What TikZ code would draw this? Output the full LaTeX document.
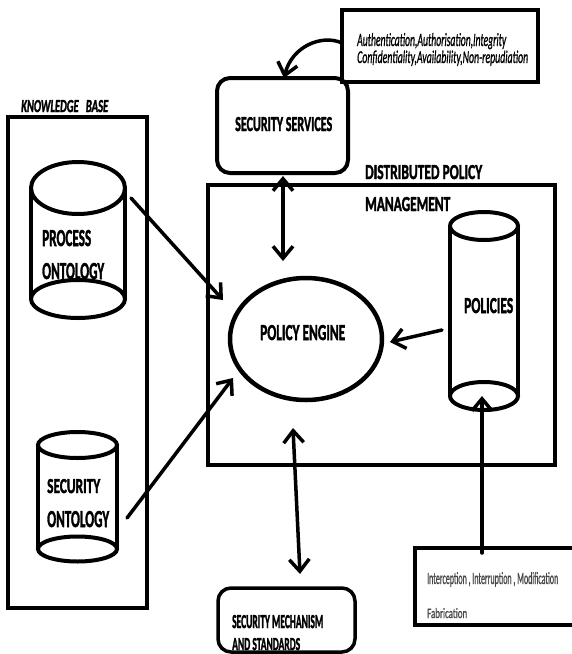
\documentclass[tikz,border=0pt]{standalone}
\usepackage{fontspec}
\setmainfont{Carlito}
\newfontfamily\heavy[FakeBold=2.2]{Carlito}
\newfontfamily\medium[FakeBold=1.2]{Carlito}
\usepackage{graphicx}
\usetikzlibrary{arrows.meta,shapes.geometric}
\newcommand{\fitto}[3]{\resizebox{#1pt}{#2pt}{#3}}
\begin{document}
\begin{tikzpicture}[x=1pt,y=-1pt,
  frame/.style={draw, line width=4.5pt, inner sep=0pt, minimum width=#1},
  rbox/.style={draw, line width=4pt, rounded corners=13pt, inner sep=0pt},
  cyl/.style={line width=4pt},
  blank/.style={inner sep=0pt},
  lbl/.style={inner sep=0pt, anchor=base west, font=\heavy\bfseries},
  arr/.style={line width=3.5pt, line cap=round, -{Straight Barb[length=12pt,width=20pt]}},
  arrtwo/.style={line width=3.5pt, line cap=round, {Straight Barb[length=12pt,width=20pt]}-{Straight Barb[length=12pt,width=20pt]}}
]
\path[use as bounding box, fill=white] (0,0) rectangle (571,654);

% containers
\node[frame=139pt, minimum height=491pt] (kb) at (77.5,362.5) {};
\node[frame=347pt, minimum height=280pt] (dpm) at (381.5,325) {};
\node[frame=196pt, minimum height=72pt] (attr) at (440,46) {};
\node[frame=165pt, minimum height=77pt] (threat) at (497.5,586.5) {};
\node[rbox, minimum width=131pt, minimum height=95pt] (ss) at (282.5,125.5) {};
\node[rbox, minimum width=137pt, minimum height=64pt, line width=3.5pt] (mech) at (286.5,620) {};
\node[draw, ellipse, line width=4.5pt, minimum width=152pt, minimum height=122pt, inner sep=0pt] (engine) at (306,339) {};

% cylinders
\node[blank, minimum width=94pt, minimum height=156pt] (proc) at (78,240) {};
\draw[cyl] (78,188) ellipse [x radius=47pt, y radius=26pt];
\draw[cyl] (31,188) -- (31,299) (125,188) -- (125,299);
\draw[cyl] (78,299) ellipse [x radius=47pt, y radius=19pt];

\node[blank, minimum width=79pt, minimum height=130pt] (secont) at (77.5,497) {};
\draw[cyl] (77.5,445) ellipse [x radius=39.5pt, y radius=13pt];
\draw[cyl] (38,445) -- (38,549) (117,445) -- (117,549);
\draw[cyl] (77.5,549) ellipse [x radius=39.5pt, y radius=12.5pt];

\node[blank, minimum width=68pt, minimum height=198pt] (pol) at (484,311) {};
\draw[cyl] (484,226) ellipse [x radius=34pt, y radius=14pt];
\draw[cyl] (450,226) -- (450,396) (518,226) -- (518,396);
\draw[cyl] (484,396) ellipse [x radius=34pt, y radius=14pt];

% labels
\node[lbl, font=\heavy\bfseries\itshape] (kbl) at (21,112) {\fitto{87}{12}{KNOWLEDGE\ \ \ BASE}};
\node[lbl] (procl1) at (42,246) {\fitto{49}{16}{PROCESS}};
\node[lbl] (procl2) at (42,279) {\fitto{62}{16}{ONTOLOGY}};
\node[lbl] (secl1) at (47,493) {\fitto{53}{14}{SECURITY}};
\node[lbl] (secl2) at (47,527) {\fitto{62}{16}{ONTOLOGY}};
\node[lbl] (ssl) at (235,131) {\fitto{97}{14}{SECURITY SERVICES}};
\node[lbl] (dpml1) at (365,179) {\fitto{117}{14}{DISTRIBUTED POLICY}};
\node[lbl] (dpml2) at (365,211) {\fitto{85}{14}{MANAGEMENT}};
\node[lbl] (engl) at (260,340) {\fitto{85}{15}{POLICY ENGINE}};
\node[lbl] (poll) at (464,313) {\fitto{49}{15}{POLICIES}};
\node[lbl, font=\medium\itshape] (attrl1) at (357,46) {\fitto{149}{13}{Authentication,Authorisation,Integrity}};
\node[lbl, font=\medium\itshape] (attrl2) at (357,63) {\fitto{171}{12.5}{Confidentiality,Availability,Non-repudiation}};
\node[lbl, font=\medium, text=black!72] (thrl1) at (427,584) {\fitto{131}{12}{Interception , Interruption , Modification}};
\node[lbl, font=\medium, text=black!72] (thrl2) at (427,618) {\fitto{40}{10}{Fabrication}};
\node[lbl] (mechl1) at (232,628) {\fitto{91}{13}{SECURITY MECHANISM}};
\node[lbl] (mechl2) at (232,650) {\fitto{68}{12}{AND STANDARDS}};

% connector end points
\coordinate (p1s) at (131,198);
\coordinate (p1e) at (223,300);
\coordinate (p2s) at (127,518);
\coordinate (p2e) at (233,378);
\coordinate (p3s) at (442,330);
\coordinate (p3e) at (390,342);
\coordinate (p4s) at (283,176);
\coordinate (p4e) at (283,261);
\coordinate (p5s) at (293,428);
\coordinate (p5e) at (300,574);
\coordinate (p6s) at (482,553);
\coordinate (p6e) at (482,396);
\coordinate (p7s) at (342,43);
\coordinate (p7e) at (284,78);

\draw[arr] (p1s) -- (p1e);
\draw[arr] (p2s) -- (p2e);
\draw[arr] (p3s) -- (p3e);
\draw[arrtwo] (p4s) -- (p4e);
\draw[arrtwo] (p5s) -- (p5e);
\draw[arr] (p6s) -- (p6e);
\draw[arr] (p7s) .. controls (322,34) and (292,46) .. (p7e);
\end{tikzpicture}
\end{document}
